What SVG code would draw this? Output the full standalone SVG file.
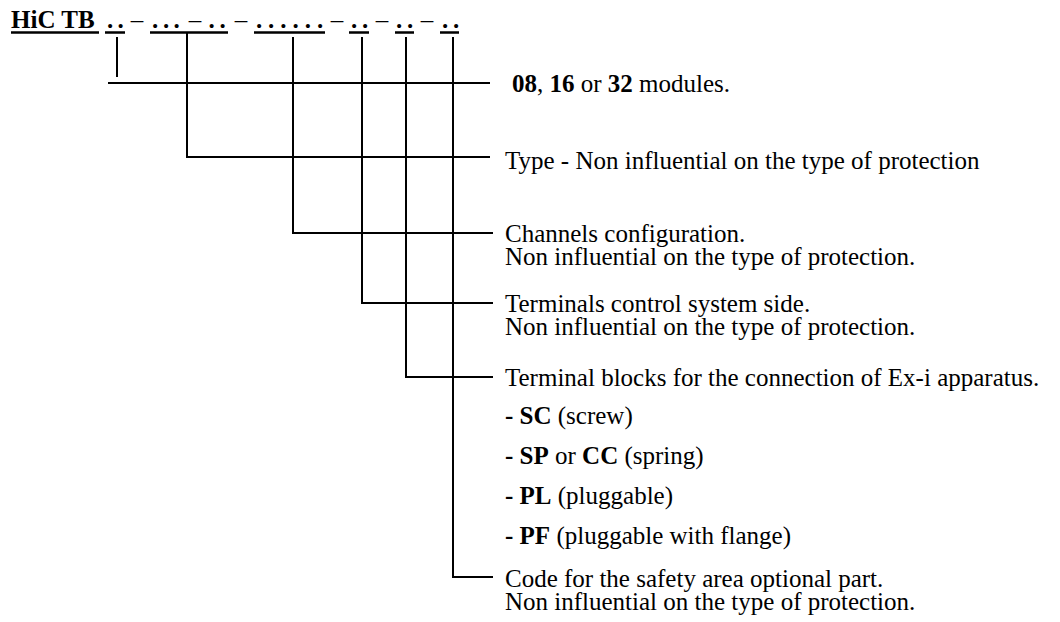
<svg xmlns="http://www.w3.org/2000/svg" width="1060" height="622" viewBox="0 0 1060 622">
<style>
text{font-family:"Liberation Serif","Times New Roman",serif;font-size:25px;fill:#000}
.b{font-weight:bold}
.r{font-weight:normal}
.ln{stroke:#000;stroke-width:2;fill:none}
.ul{stroke:#000;stroke-width:2.6;fill:none}
</style>
<rect width="1060" height="622" fill="#fff"/>
<g id="header">
<text x="11" y="28" class="b">HiC TB</text>
<line class="ul" x1="11" y1="32.5" x2="99" y2="32.5"/>
<text class="b" text-anchor="middle" y="28"><tspan x="110 120.7">..</tspan><tspan class="r" x="137">–</tspan><tspan x="155 166 176.7">...</tspan><tspan class="r" x="195">–</tspan><tspan x="211.7 222.7">..</tspan><tspan class="r" x="241">–</tspan><tspan x="259 271.2 283.4 295.6 307.8 320">......</tspan><tspan class="r" x="337">–</tspan><tspan x="354 365">..</tspan><tspan class="r" x="382">–</tspan><tspan x="399 410">..</tspan><tspan class="r" x="427">–</tspan><tspan x="445 456">..</tspan></text>
<path class="ul" d="M105 32.5H125M150 32.5H228M254 32.5H325M349 32.5H369M395 32.5H414M440 32.5H459"/>
</g>
<g id="connectors">
<path class="ln" d="M117 37V77M108 83H490"/>
<path class="ln" d="M187 32V157H490"/>
<path class="ln" d="M293 37V233H493"/>
<path class="ln" d="M362 37V303H493"/>
<path class="ln" d="M406 37V377H493"/>
<path class="ln" d="M453 37V577H493"/>
</g>
<g id="modules"><text x="512" y="92"><tspan class="b">08</tspan>, <tspan class="b">16</tspan> or <tspan class="b">32</tspan> modules.</text></g>
<g id="type"><text x="505" y="169">Type - Non influential on the type of protection</text></g>
<g id="channels"><text x="505" y="242">Channels configuration.</text><text x="505" y="265">Non influential on the type of protection.</text></g>
<g id="terminals-cs"><text x="505" y="312">Terminals control system side.</text><text x="505" y="335">Non influential on the type of protection.</text></g>
<g id="terminal-blocks">
<text x="505" y="386">Terminal blocks for the connection of Ex-i apparatus.</text>
<text x="505" y="424"><tspan class="b">- SC</tspan> (screw)</text>
<text x="505" y="464"><tspan class="b">- SP</tspan> or <tspan class="b">CC</tspan> (spring)</text>
<text x="505" y="504"><tspan class="b">- PL</tspan> (pluggable)</text>
<text x="505" y="544"><tspan class="b">- PF</tspan> (pluggable with flange)</text>
</g>
<g id="code"><text x="505" y="587">Code for the safety area optional part.</text><text x="505" y="610">Non influential on the type of protection.</text></g>
</svg>
